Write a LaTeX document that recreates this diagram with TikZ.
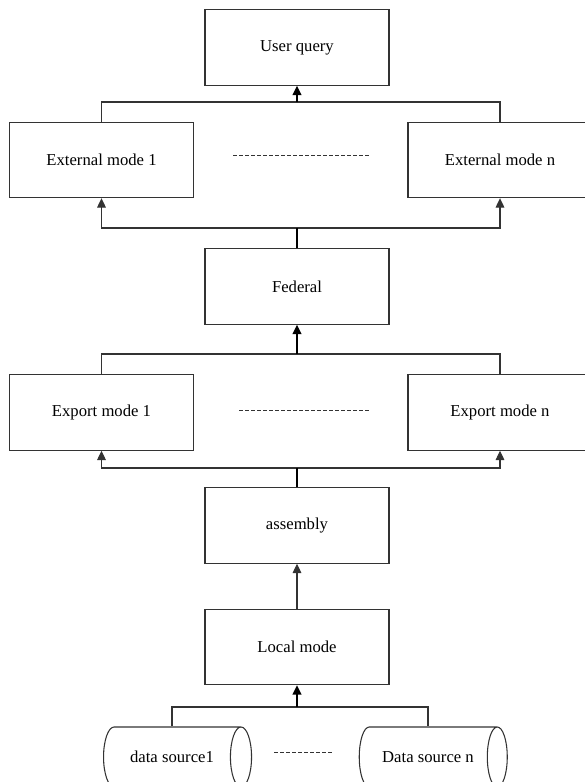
\documentclass[tikz,border=0pt]{standalone}
\usepackage{fontspec}
\setmainfont{Liberation Serif}
\usetikzlibrary{arrows.meta,shapes.geometric}

\begin{document}
\begin{tikzpicture}[x=0.75pt,y=-0.75pt,>={Triangle[length=7pt,width=6.5pt]},
  modebox/.style={draw=black!80,line width=0.8pt,minimum width=138pt,minimum height=56.5pt,inner sep=0pt,font=\fontsize{12.5}{14}\selectfont},
  source/.style={draw=black!80,line width=0.8pt,cylinder,aspect=1.8,minimum width=45pt,minimum height=111pt,inner sep=0pt,font=\fontsize{12.5}{14}\selectfont},
  link/.style={draw=black!80,line width=0.8pt},
  feed/.style={draw=black,line width=1.1pt}]
\useasboundingbox (0,0) rectangle (585,782);
\clip (0,0) rectangle (585,782);
\node[modebox] (query) at (297,47.5) {User query};
\node[modebox] (ext1) at (101.5,160) {External mode 1};
\node[modebox] (extn) at (500,160) {External mode n};
\node[modebox] (federal) at (297,286.5) {Federal};
\node[modebox] (exp1) at (101.5,412.5) {Export mode 1};
\node[modebox] (expn) at (500,412.5) {Export mode n};
\node[modebox] (assembly) at (297,525.5) {assembly};
\node[modebox] (local) at (297,647) {Local mode};
\node[source] (ds1) at (172,757) {data source1};
\node[source] (dsn) at (428,757) {Data source n};
\coordinate (j1) at (297,102);
\coordinate (j2) at (297,228);
\coordinate (j3) at (297,354);
\coordinate (j4) at (297,468);
\coordinate (j5) at (297,707);
\draw[link] (ext1.north) |- (j1) -| (extn.north);
\draw[feed,->] (j1) -- (query.south);
\draw[link,->] (j2) -| (ext1.south);
\draw[link,->] (j2) -| (extn.south);
\draw[feed] (federal.north) -- (j2);
\draw[link] (exp1.north) |- (j3) -| (expn.north);
\draw[feed,->] (j3) -- (federal.south);
\draw[link,->] (j4) -| (exp1.south);
\draw[link,->] (j4) -| (expn.south);
\draw[feed] (assembly.north) -- (j4);
\draw[link,->] (local.north) -- (assembly.south);
\draw[link] (ds1.north) |- (j5) -| (dsn.north);
\draw[feed,->] (j5) -- (local.south);
% dotted gaps between the first and last mode
\draw[link,dashed,line width=0.6pt,dash pattern=on 3pt off 1.5pt] (233,155) -- (369,155);
\draw[link,dashed,line width=0.6pt,dash pattern=on 3pt off 1.5pt] (239,410) -- (369,410);
\draw[link,dashed,line width=0.6pt,dash pattern=on 3pt off 1.5pt] (274,752) -- (332,752);
\end{tikzpicture}
\end{document}
